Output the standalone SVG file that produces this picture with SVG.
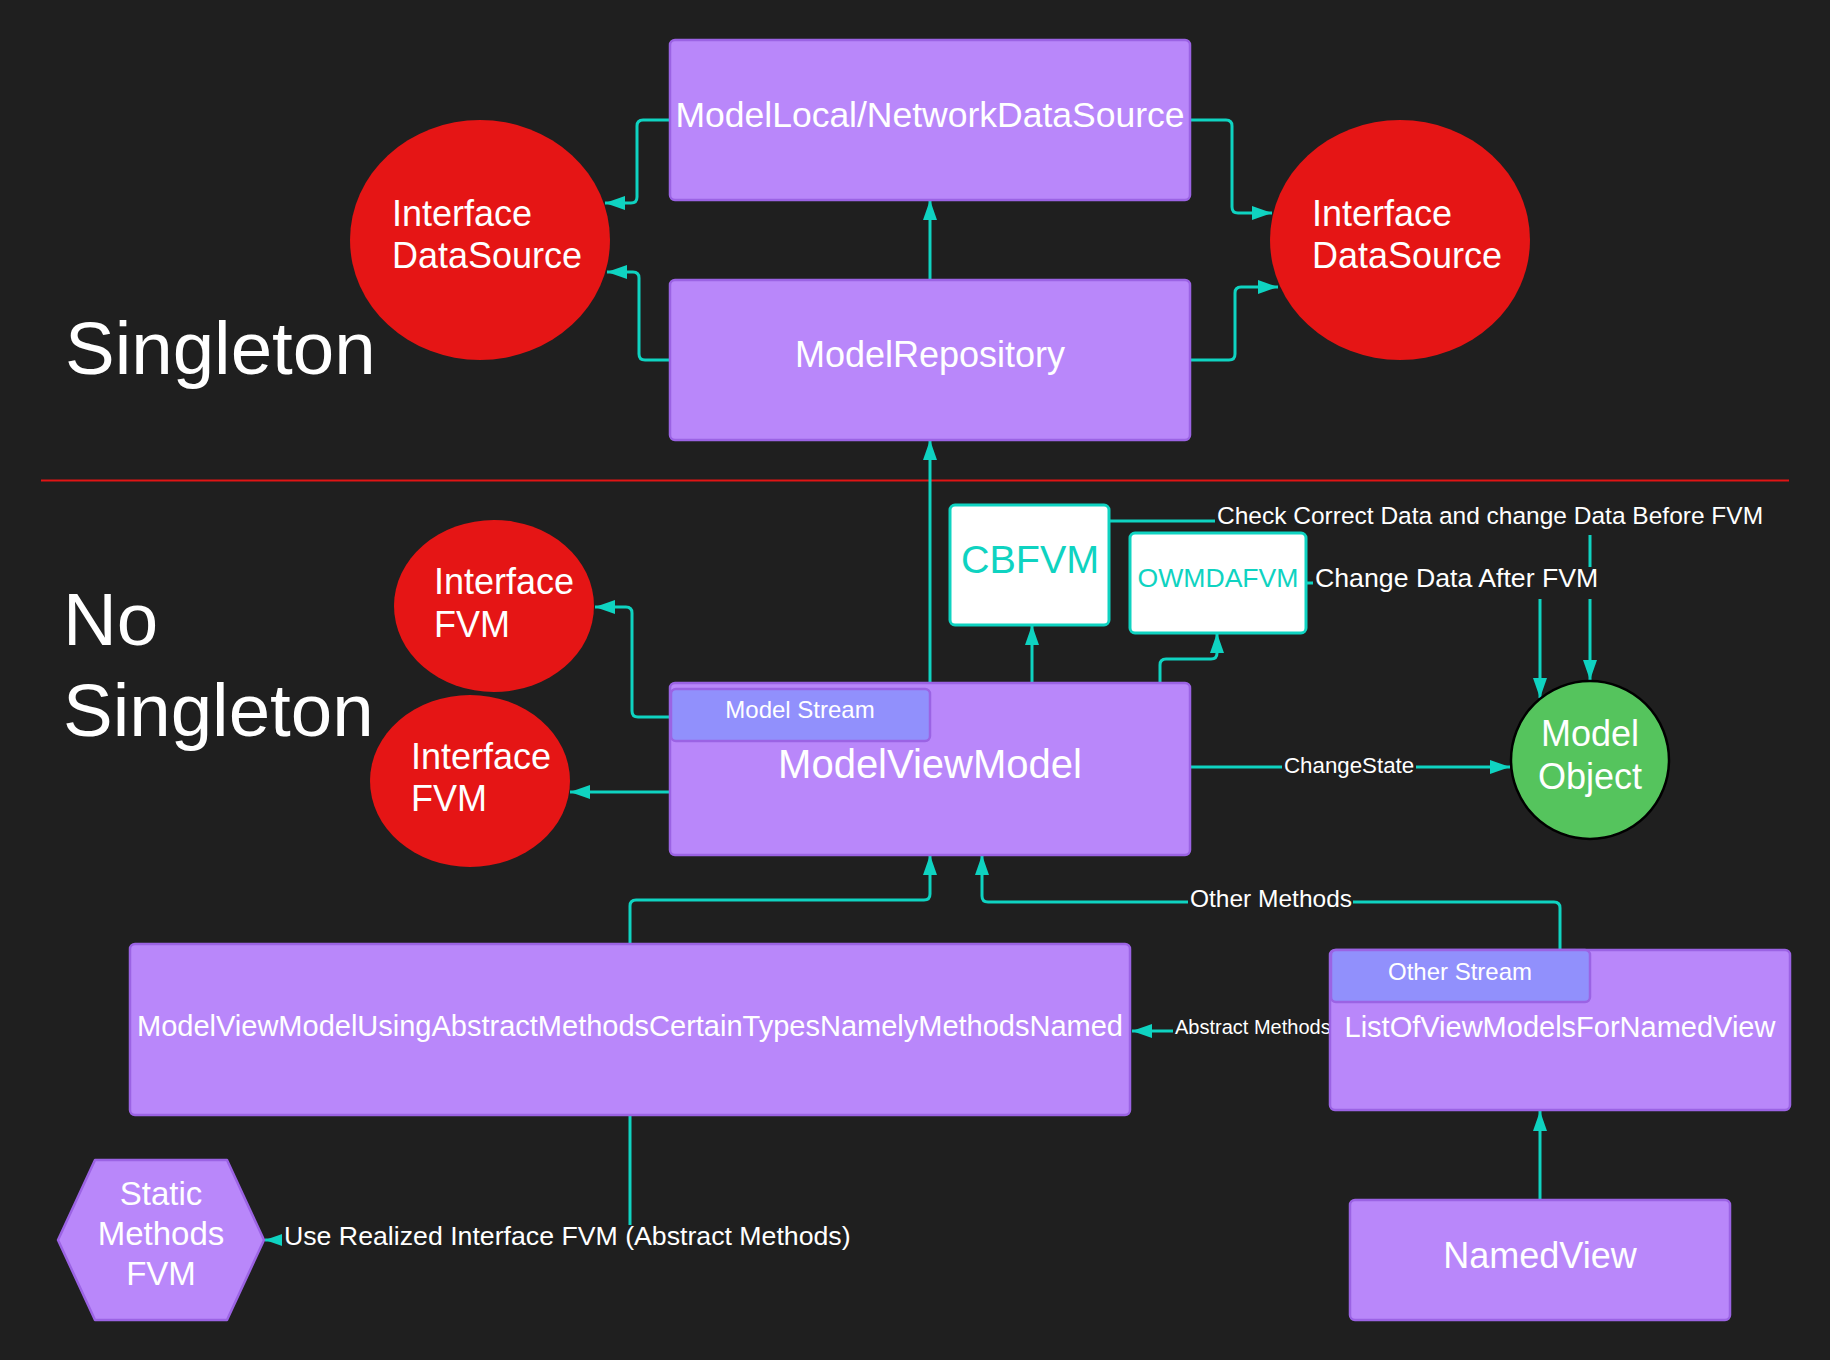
<svg xmlns="http://www.w3.org/2000/svg" width="1830" height="1360" viewBox="0 0 1830 1360">
<defs>
<marker id="arr" markerUnits="userSpaceOnUse" markerWidth="20" markerHeight="14" refX="20" refY="7" orient="auto">
<path d="M0,0 L20,7 L0,14 z" fill="#0fd3c1"/>
</marker>
<style>
text{font-family:"Liberation Sans",Arial,sans-serif;fill:#ffffff}
.box{fill:#b987fa;stroke:#9b63e4;stroke-width:2.5}
.sub{fill:#9190fc;stroke:#9b63e4;stroke-width:2.5}
.red{fill:#e51515}
.white{fill:#ffffff;stroke:#0fd3c1;stroke-width:3}
.con{fill:none;stroke:#0fd3c1;stroke-width:3;stroke-linejoin:round}
.arrow{marker-end:url(#arr)}
.lbg{fill:#1f1f1f}
.mid{text-anchor:middle}
.teal{fill:#0fd3c1}
.big{font-size:74.5px}
</style>
</defs>
<rect width="1830" height="1360" fill="#1f1f1f"/>

<text class="big" x="65" y="374">Singleton</text>
<text class="big" x="63" y="645">No</text>
<text class="big" x="63" y="736">Singleton</text>
<line x1="41" y1="480.5" x2="1789" y2="480.5" stroke="#e01414" stroke-width="2"/>

<g id="connectors">
<path class="con arrow" d="M670,120 H643 Q637,120 637,126 V197 Q637,203 631,203 H605"/>
<path class="con arrow" d="M670,360 H645 Q639,360 639,354 V278 Q639,272 633,272 H607"/>
<path class="con arrow" d="M930,280 V200"/>
<path class="con arrow" d="M1190,120 H1226 Q1232,120 1232,126 V207 Q1232,213 1238,213 H1272"/>
<path class="con arrow" d="M1190,360 H1229 Q1235,360 1235,354 V293 Q1235,287 1241,287 H1278"/>
<path class="con arrow" d="M930,683 V440"/>
<path class="con arrow" d="M1032,683 V625"/>
<path class="con arrow" d="M1160,683 V665 Q1160,659 1166,659 H1211 Q1217,659 1217,653 V633"/>
<path class="con arrow" d="M670,717 H638 Q632,717 632,711 V613 Q632,607 626,607 H595"/>
<path class="con arrow" d="M670,792 H570"/>
<path class="con arrow" d="M1110,521 H1584 Q1590,521 1590,527 V680"/>
<path class="con arrow" d="M1306,583 H1534 Q1540,583 1540,589 V698"/>
<path class="con arrow" d="M1190,767 H1510"/>
<path class="con arrow" d="M630,944 V906 Q630,900 636,900 H924 Q930,900 930,894 V855"/>
<path class="con arrow" d="M1560,950 V908 Q1560,902 1554,902 H988 Q982,902 982,896 V855"/>
<path class="con arrow" d="M1330,1031 H1132"/>
<path class="con arrow" d="M630,1115 V1234 Q630,1240 624,1240 H265"/>
<path class="con arrow" d="M1540,1200 V1111"/>
<rect class="lbg" x="1215" y="503" width="552" height="32"/>
<text x="1217" y="524" font-size="24.5">Check Correct Data and change Data Before FVM</text>
<rect class="lbg" x="1313" y="567" width="288" height="32"/>
<text x="1315" y="587" font-size="26.7">Change Data After FVM</text>
<rect class="lbg" x="1282" y="755" width="134" height="25"/>
<text x="1284" y="773" font-size="22.3">ChangeState</text>
<rect class="lbg" x="1188" y="887" width="165" height="28"/>
<text x="1190" y="907" font-size="24.5">Other Methods</text>
<rect class="lbg" x="1173" y="1018" width="157" height="22"/>
<text x="1175" y="1034" font-size="20">Abstract Methods</text>
<rect class="lbg" x="282" y="1225" width="571" height="30"/>
<text x="284" y="1245" font-size="26.7">Use Realized Interface FVM (Abstract Methods)</text>
</g>

<g id="modelLocal">
<rect class="box" x="670" y="40" width="520" height="160" rx="5"/>
<text class="mid" x="930" y="127" font-size="35.5">ModelLocal/NetworkDataSource</text>
</g>
<g id="modelRepository">
<rect class="box" x="670" y="280" width="520" height="160" rx="5"/>
<text class="mid" x="930" y="367" font-size="36">ModelRepository</text>
</g>
<g id="interfaceDataSourceLeft">
<ellipse class="red" cx="480" cy="240" rx="130" ry="120"/>
<text x="392" y="226" font-size="36">Interface</text>
<text x="392" y="268" font-size="36">DataSource</text>
</g>
<g id="interfaceDataSourceRight">
<ellipse class="red" cx="1400" cy="240" rx="130" ry="120"/>
<text x="1312" y="226" font-size="36">Interface</text>
<text x="1312" y="268" font-size="36">DataSource</text>
</g>
<g id="interfaceFVMTop">
<ellipse class="red" cx="494" cy="606" rx="100" ry="86"/>
<text x="434" y="594" font-size="36">Interface</text>
<text x="434" y="637" font-size="36">FVM</text>
</g>
<g id="interfaceFVMBottom">
<ellipse class="red" cx="470" cy="781" rx="100" ry="86"/>
<text x="411" y="769" font-size="36">Interface</text>
<text x="411" y="811" font-size="36">FVM</text>
</g>
<g id="modelViewModel">
<rect class="box" x="670" y="683" width="520" height="172" rx="5"/>
<rect class="sub" x="671" y="689" width="259" height="52" rx="5"/>
<text class="mid" x="800" y="718" font-size="24">Model Stream</text>
<text class="mid" x="930" y="778" font-size="40">ModelViewModel</text>
</g>
<g id="cbfvm">
<rect class="white" x="950" y="505" width="159" height="120" rx="5"/>
<text class="mid teal" x="1030" y="573" font-size="39.5">CBFVM</text>
</g>
<g id="owmdafvm">
<rect class="white" x="1130" y="533" width="176" height="100" rx="5"/>
<text class="mid teal" x="1218" y="587" font-size="26.6">OWMDAFVM</text>
</g>
<g id="modelObject">
<circle cx="1590" cy="760" r="79" fill="#55c45d" stroke="#000000" stroke-width="2.5"/>
<text class="mid" x="1590" y="746" font-size="36">Model</text>
<text class="mid" x="1590" y="789" font-size="36">Object</text>
</g>
<g id="modelViewModelUsing">
<rect class="box" x="130" y="944" width="1000" height="171" rx="5"/>
<text class="mid" x="630" y="1036" font-size="29">ModelViewModelUsingAbstractMethodsCertainTypesNamelyMethodsNamed</text>
</g>
<g id="listOfViewModels">
<rect class="box" x="1330" y="950" width="460" height="160" rx="5"/>
<rect class="sub" x="1331" y="950" width="259" height="52" rx="5"/>
<text class="mid" x="1460" y="980" font-size="24">Other Stream</text>
<text class="mid" x="1560" y="1037" font-size="29">ListOfViewModelsForNamedView</text>
</g>
<g id="namedView">
<rect class="box" x="1350" y="1200" width="380" height="120" rx="5"/>
<text class="mid" x="1540" y="1268" font-size="36">NamedView</text>
</g>
<g id="staticMethods">
<path class="box" d="M58,1240 L95,1160 H227 L264,1240 L227,1320 H95 Z" stroke-linejoin="round"/>
<text class="mid" x="161" y="1205" font-size="33">Static</text>
<text class="mid" x="161" y="1245" font-size="33">Methods</text>
<text class="mid" x="161" y="1285" font-size="33">FVM</text>
</g>
</svg>
